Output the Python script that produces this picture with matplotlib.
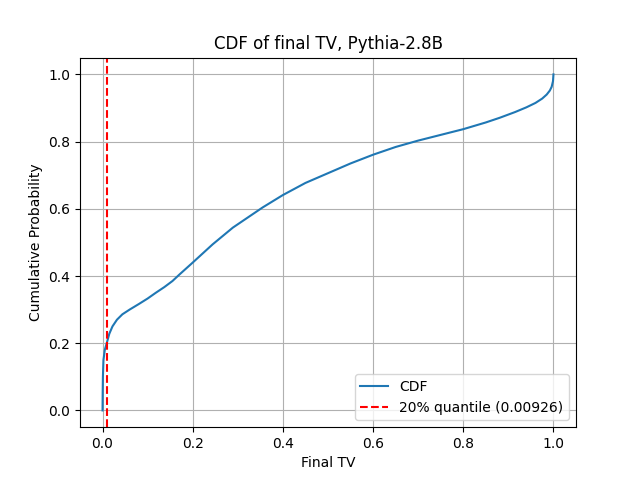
import numpy as np
import matplotlib
matplotlib.use("Agg")
import matplotlib.pyplot as plt

# CDF points
final_tv = [0.0, 0.0003, 0.0008, 0.002, 0.005, 0.00926, 0.015, 0.022, 0.032, 0.044,
            0.06, 0.081, 0.1, 0.118, 0.137, 0.155, 0.171, 0.2, 0.244, 0.289,
            0.355, 0.4, 0.45, 0.5, 0.55, 0.6, 0.65, 0.7, 0.75, 0.8, 0.85,
            0.881, 0.915, 0.94, 0.96, 0.975, 0.985, 0.992, 0.996, 0.999, 1.0]
cum_prob = [0.0, 0.05, 0.1, 0.15, 0.18, 0.2, 0.228, 0.25, 0.27, 0.286,
            0.3, 0.317, 0.333, 0.35, 0.367, 0.385, 0.405, 0.44, 0.494, 0.544,
            0.604, 0.641, 0.677, 0.706, 0.735, 0.761, 0.784, 0.803, 0.82, 0.837, 0.857,
            0.871, 0.888, 0.902, 0.915, 0.928, 0.94, 0.952, 0.963, 0.98, 1.0]
q20 = 0.00926

fig, ax = plt.subplots(figsize=(6.4, 4.8), dpi=100)
ax.plot(final_tv, cum_prob, label="CDF")
ax.axvline(q20, color="red", linestyle="--", label=f"20% quantile ({q20:.5f})")
ax.set_title("CDF of final TV, Pythia-2.8B")
ax.set_xlabel("Final TV")
ax.set_ylabel("Cumulative Probability")
ax.grid(True)
ax.legend(loc="lower right")

fig.savefig("out.png")
